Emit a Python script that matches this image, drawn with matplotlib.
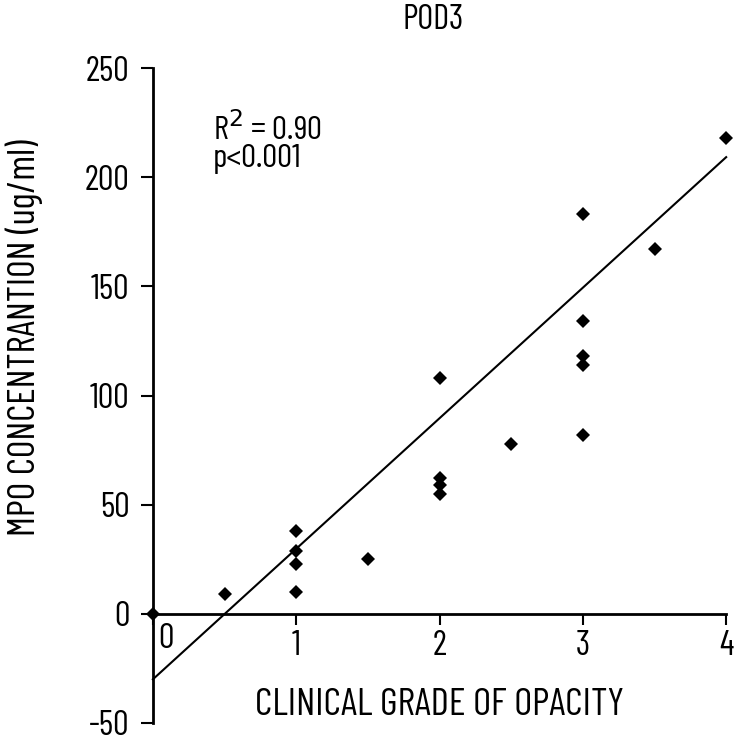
import matplotlib
matplotlib.use("Agg")
import matplotlib.pyplot as plt
import numpy as np

plt.rcParams['font.family'] = ['Barlow Condensed', 'DejaVu Sans']

# Data
grade = [0, 0.5, 1, 1, 1, 1, 1.5, 2, 2, 2, 2, 2.5, 3, 3, 3, 3, 3, 3.5, 4]
mpo = [0, 9, 38, 29, 23, 10, 25, 108, 62, 59, 55, 78, 183, 134, 118, 114, 82, 167, 218]
fit_intercept = -30
fit_slope = 59.8
fit_x = [0, 4]
x_ticks = [0, 1, 2, 3, 4]
y_ticks = [-50, 0, 50, 100, 150, 200, 250]

fig = plt.figure(figsize=(7.35, 7.40), dpi=100)
ax = fig.add_axes([0.208, 0.023, 0.780, 0.885])

ax.plot(grade, mpo, linestyle='none', marker='D', markersize=7.5,
        color='black', markeredgewidth=0, clip_on=False, zorder=3)
fx = np.array(fit_x, dtype=float)
ax.plot(fx, fit_intercept + fit_slope * fx, color='black', linewidth=1.5,
        clip_on=False)

ax.set_xlim(0, 4)
ax.set_ylim(-50, 250)

for s in ['top', 'right']:
    ax.spines[s].set_visible(False)
ax.spines['bottom'].set_position(('data', 0))
ax.spines['bottom'].set_linewidth(2)
ax.spines['left'].set_linewidth(2)

ax.set_yticks(y_ticks)
ax.set_yticklabels([str(v) for v in y_ticks], fontsize=25)
ax.set_xticks(x_ticks)
ax.set_xticklabels([''] + [str(v) for v in x_ticks[1:]], fontsize=25)
ax.tick_params(axis='y', direction='out', length=9, width=1.5, pad=8)
ax.tick_params(axis='x', direction='out', length=8, width=1.5, pad=4)
ax.text(0.04, -4, '0', fontsize=25, ha='left', va='top')

fig.text(24 / 735, 1 - 338 / 740, 'MPO CONCENTRANTION (ug/ml)', fontsize=27.5,
         rotation=90, ha='center', va='center')
ax.text(2.0, -42, 'CLINICAL GRADE OF OPACITY', fontsize=28,
        ha='center', va='center')
fig.text(433 / 735, 1 - 20 / 740, 'POD3', fontsize=25, ha='center', va='center')

ax.text(0.42, 230, 'R$^2$ = 0.90\np<0.001', fontsize=24, ha='left', va='top',
        linespacing=0.9)

fig.savefig('out.png', dpi=100)
